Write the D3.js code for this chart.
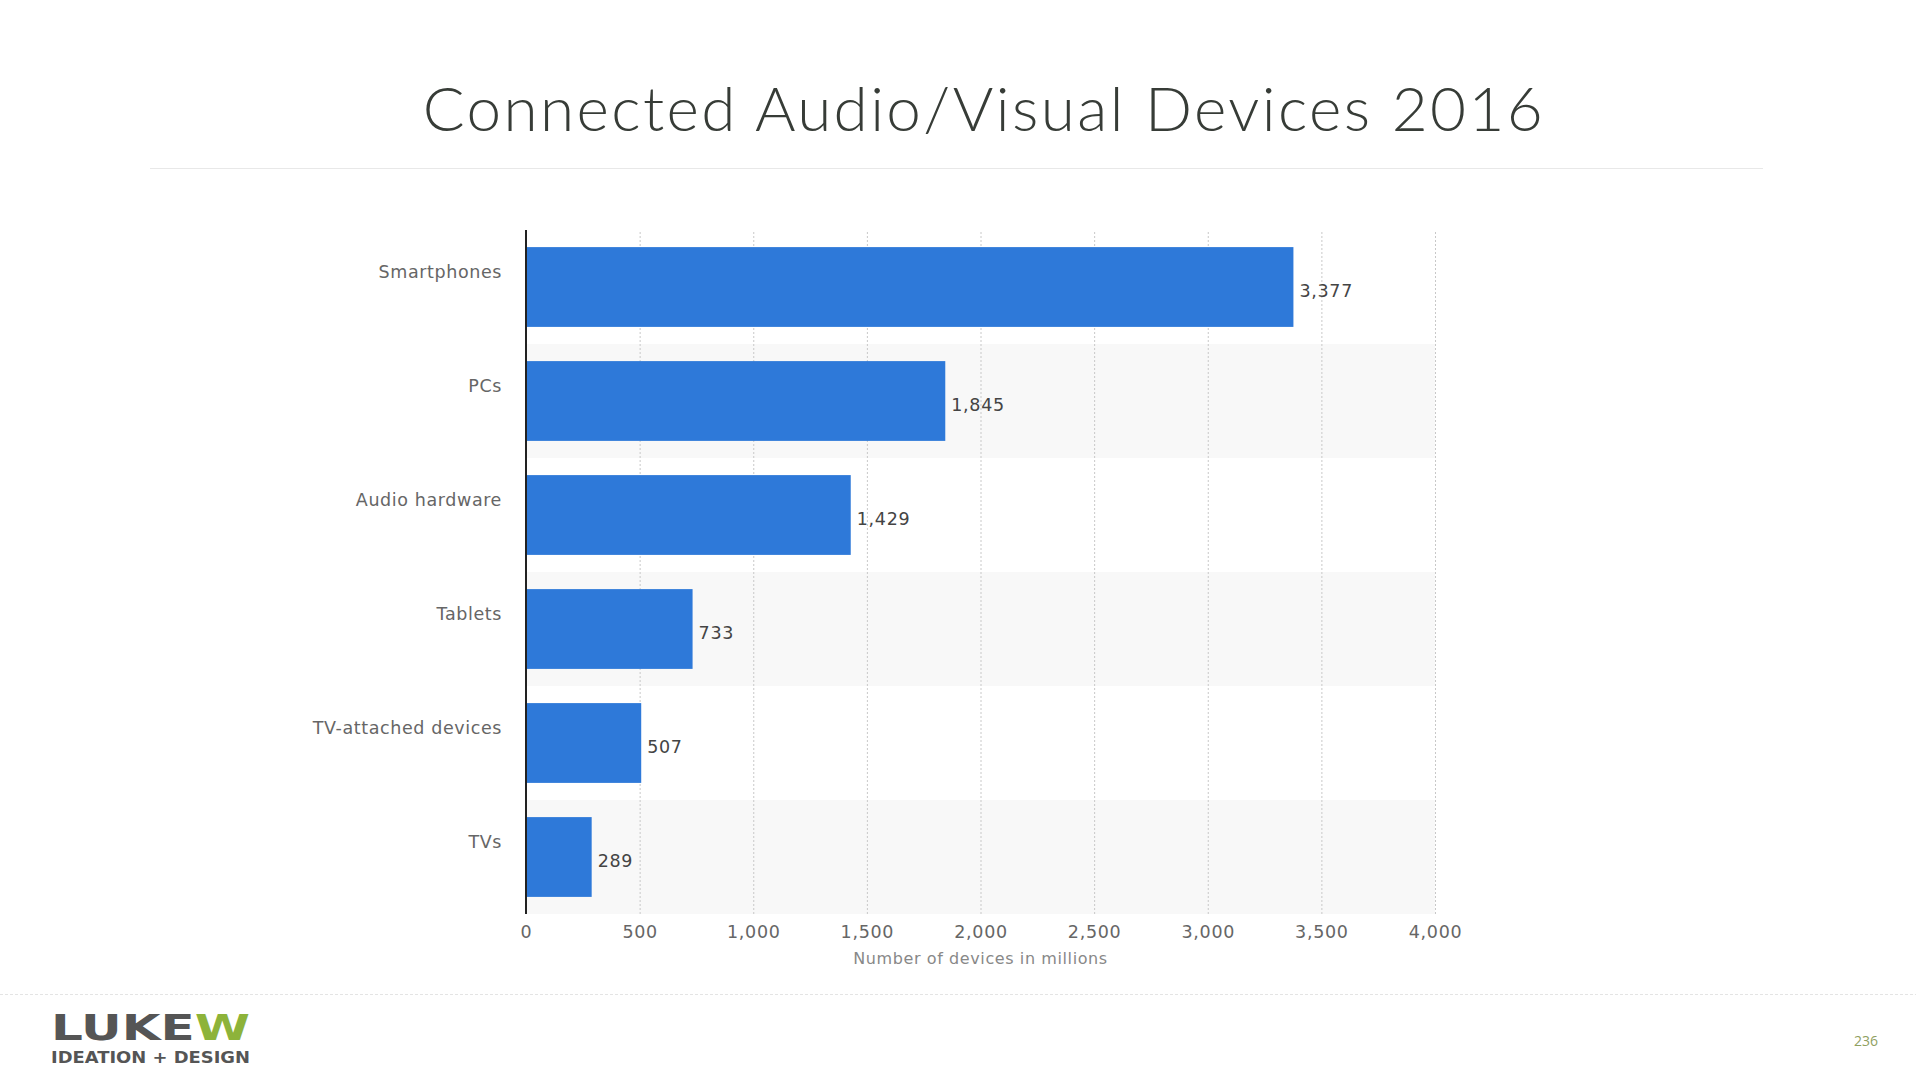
<!DOCTYPE html>
<html><head><meta charset="utf-8">
<script src="https://cdn.jsdelivr.net/npm/d3@7"></script>
<style>
html,body{margin:0;padding:0;background:#fff;}
svg{display:block;}
</style></head>
<body>
<svg id="chart" width="1916" height="1076"></svg>
<script>
const title = "Connected Audio/Visual Devices 2016";
const categories = ["Smartphones","PCs","Audio hardware","Tablets","TV-attached devices","TVs"];
const values = [3377,1845,1429,733,507,289];
const tickValues = [0,500,1000,1500,2000,2500,3000,3500,4000];
const axisTitle = "Number of devices in millions";
const pageNumber = "236";

const svg = d3.select("#chart");
const fmt = d3.format(",");

const pLeft = 526, pRight = 1435, pTop = 230, pBottom = 914;
const x = d3.scaleLinear().domain([0,4000]).range([pLeft,pRight]);
const yRow = d3.scaleBand().domain(categories).range([pTop,pBottom]).padding(0);
const y = d3.scaleBand().domain(categories).range([pTop,pBottom]).paddingInner(0.3).paddingOuter(0.15);

// title
svg.append("text").attr("x",984).attr("y",131).attr("text-anchor","middle")
  .attr("font-family","Lato, 'Open Sans', sans-serif").attr("font-weight",300)
  .attr("font-size",62).attr("letter-spacing","2.4px").attr("fill","#373c37").text(title);
svg.append("line").attr("x1",150).attr("x2",1763).attr("y1",168.5).attr("y2",168.5)
  .attr("stroke","#e8e8e8").attr("stroke-width",1);

// stripes
svg.append("g").selectAll("rect").data(categories.filter((d,i)=>i%2===1)).join("rect")
  .attr("x",pLeft).attr("width",pRight-pLeft)
  .attr("y",d=>yRow(d)).attr("height",yRow.bandwidth())
  .attr("fill","#f8f8f8");

// grid
const grid = d3.axisBottom(x).tickValues(tickValues.slice(1)).tickSize(-(pBottom-pTop)).tickFormat("");
svg.append("g").attr("transform",`translate(0,${pBottom})`).call(grid)
  .call(g=>g.select(".domain").remove())
  .call(g=>g.selectAll("line").attr("stroke","#c8c8c8").attr("stroke-dasharray","2,2"));

// bars
svg.append("g").selectAll("rect").data(categories).join("rect")
  .attr("x",x(0)).attr("y",d=>y(d))
  .attr("width",(d,i)=>x(values[i])-x(0)).attr("height",y.bandwidth())
  .attr("fill","#2e79d9");

// value labels
svg.append("g").selectAll("text").data(categories).join("text")
  .attr("x",(d,i)=>x(values[i])+6).attr("y",d=>y(d)+y.bandwidth()/2+10)
  .attr("font-family","'DejaVu Sans', sans-serif").attr("font-size",17.5)
  .attr("letter-spacing","0.7px")
  .attr("fill","#444").text((d,i)=>fmt(values[i]));

// category labels
svg.append("g").selectAll("text").data(categories).join("text")
  .attr("x",502).attr("y",d=>y(d)+y.bandwidth()/2-9)
  .attr("text-anchor","end")
  .attr("font-family","'DejaVu Sans', sans-serif").attr("font-size",17.5)
  .attr("letter-spacing","0.6px")
  .attr("fill","#666").text(d=>d);

// y axis line
svg.append("line").attr("x1",pLeft).attr("x2",pLeft).attr("y1",pTop).attr("y2",pBottom)
  .attr("stroke","#222").attr("stroke-width",2);

// x ticks
const xAxis = d3.axisBottom(x).tickValues(tickValues).tickSize(0).tickPadding(12).tickFormat(fmt);
svg.append("g").attr("transform",`translate(0,${pBottom})`).call(xAxis)
  .call(g=>g.select(".domain").remove())
  .call(g=>g.selectAll("text").attr("font-family","'DejaVu Sans', sans-serif")
    .attr("font-size",17.5).attr("letter-spacing","0.7px").attr("fill","#666"));

svg.append("text").attr("x",(pLeft+pRight)/2).attr("y",964).attr("text-anchor","middle")
  .attr("font-family","'DejaVu Sans', sans-serif").attr("font-size",16)
  .attr("letter-spacing","0.6px")
  .attr("fill","#888").text(axisTitle);

// footer
svg.append("line").attr("x1",0).attr("x2",1916).attr("y1",994.5).attr("y2",994.5)
  .attr("stroke","#e4e4e4").attr("stroke-dasharray","3,2");
const logo = svg.append("text").attr("x",51).attr("y",1040)
  .attr("font-family","'DejaVu Sans', sans-serif").attr("font-weight","bold")
  .attr("font-size",35).attr("textLength",199).attr("lengthAdjust","spacingAndGlyphs");
logo.append("tspan").attr("fill","#555").text("LUKE");
logo.append("tspan").attr("fill","#8db33a").text("W");
svg.append("text").attr("x",51).attr("y",1063)
  .attr("font-family","'DejaVu Sans', sans-serif").attr("font-weight","bold")
  .attr("font-size",15).attr("textLength",199).attr("lengthAdjust","spacingAndGlyphs")
  .attr("fill","#555").text("IDEATION + DESIGN");
svg.append("text").attr("x",1866).attr("y",1046).attr("text-anchor","middle")
  .attr("font-family","'Open Sans', sans-serif").attr("font-size",14)
  .attr("fill","#8fa060").text(pageNumber);
</script>
</body></html>
